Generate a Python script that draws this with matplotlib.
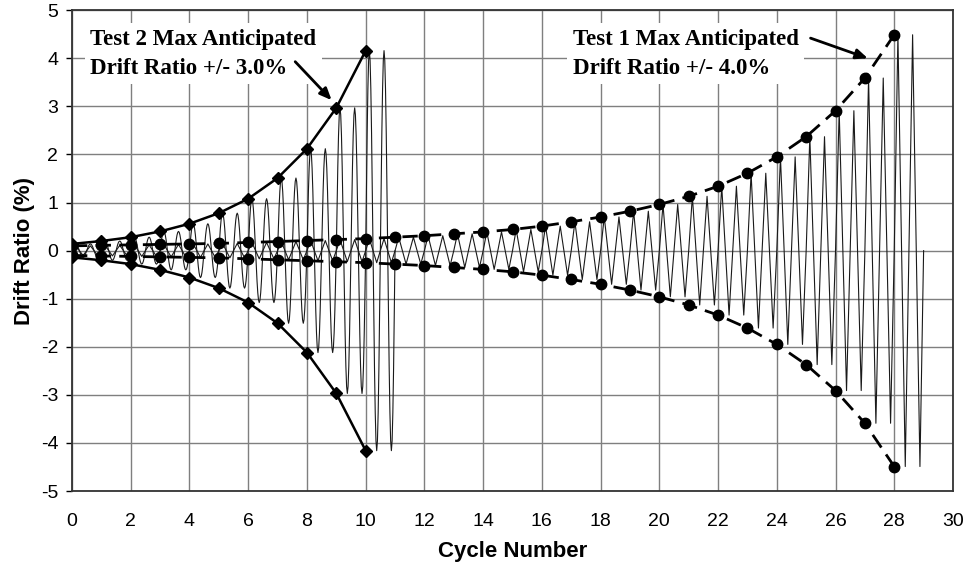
import numpy as np
import matplotlib
matplotlib.use("Agg")
from matplotlib import pyplot as plt

plt.rcParams["axes.unicode_minus"] = False

# amplitudes (drift ratio %, por ciclo)
ciclos_t1 = list(range(29))
amp_t1 = [0.10, 0.11, 0.12, 0.13, 0.14, 0.15, 0.17, 0.19, 0.21, 0.23,
          0.25, 0.28, 0.31, 0.35, 0.39, 0.44, 0.51, 0.60, 0.70, 0.82,
          0.96, 1.13, 1.34, 1.61, 1.95, 2.37, 2.91, 3.59, 4.49]
ciclos_t2 = list(range(11))
amp_t2 = [0.14, 0.20, 0.28, 0.40, 0.56, 0.78, 1.08, 1.51, 2.12, 2.97, 4.16]

xticks = list(range(0, 31, 2))
yticks = list(range(-5, 6))
texto_t1 = "Test 1 Max Anticipated\nDrift Ratio +/- 4.0%"
texto_t2 = "Test 2 Max Anticipated\nDrift Ratio +/- 3.0%"


def onda_triangular(amps):
    # dois ciclos por numero de ciclo, com a amplitude do ciclo
    xs, ys = [], []
    for i, a in enumerate(amps):
        xs += [i, i + 0.125, i + 0.375, i + 0.625, i + 0.875]
        ys += [0, a, -a, a, -a]
    xs.append(len(amps))
    ys.append(0)
    return xs, ys


def onda_seno(amps):
    xs, ys = [], []
    for i, a in enumerate(amps):
        t = np.linspace(0, 1, 41)[:-1]
        xs += list(i + t)
        ys += list(a * np.sin(4 * np.pi * t))
    xs.append(len(amps))
    ys.append(0)
    return xs, ys


fig = plt.figure(figsize=(9.67, 5.69), dpi=100)
ax = fig.add_axes([0.0745, 0.137, 0.911, 0.845])

x1, y1 = onda_triangular(amp_t1)
x2, y2 = onda_seno(amp_t2)
ax.plot(x1, y1, color="#1a1a1a", lw=0.8, zorder=3)
ax.plot(x2, y2, color="#1a1a1a", lw=0.8, zorder=3)

a1 = np.array(amp_t1)
a2 = np.array(amp_t2)
for s in (1, -1):
    ax.plot(ciclos_t1, s * a1, color="black", lw=2, dashes=(5.5, 3),
            marker="o", markersize=7.5, zorder=4)
    ax.plot(ciclos_t2, s * a2, color="black", lw=1.8,
            marker="D", markersize=6.5, zorder=4)

ax.set_xlim(0, 30)
ax.set_ylim(-5, 5)
ax.set_xticks(xticks)
ax.set_yticks(yticks)
ax.grid(True, color="#7f7f7f", lw=1.0, zorder=0)
ax.set_axisbelow(True)
for sp in ax.spines.values():
    sp.set_color("#333333")
    sp.set_linewidth(1.3)
ax.tick_params(axis="y", direction="out", length=4, width=1, labelsize=14, pad=6)
ax.tick_params(axis="x", direction="in", length=0, labelsize=14, pad=16)
for lab in ax.get_xticklabels() + ax.get_yticklabels():
    lab.set_family("Liberation Sans")

ax.set_xlabel("Cycle Number", fontsize=16, fontweight="bold",
              family="Liberation Sans", labelpad=8)
ax.set_ylabel("Drift Ratio (%)", fontsize=16, fontweight="bold",
              family="Liberation Sans", labelpad=4)

caixa = dict(boxstyle="square,pad=0.25", fc="white", ec="none")
ax.text(0.62, 4.62, texto_t2, ha="left", va="top", fontsize=16.5,
        fontweight="bold", family="Liberation Serif", linespacing=1.5,
        bbox=caixa, zorder=5)
ax.text(17.05, 4.62, texto_t1, ha="left", va="top", fontsize=16.5,
        fontweight="bold", family="Liberation Serif", linespacing=1.5,
        bbox=caixa, zorder=5)

seta = dict(arrowstyle="-|>,head_length=0.7,head_width=0.3", lw=2, color="black",
            shrinkA=0, shrinkB=0)
ax.annotate("", xy=(8.84, 3.13), xytext=(7.6, 3.93), arrowprops=seta, zorder=6)
ax.annotate("", xy=(27.1, 4.0), xytext=(25.15, 4.42), arrowprops=seta, zorder=6)

fig.savefig("out.png", dpi=100)
